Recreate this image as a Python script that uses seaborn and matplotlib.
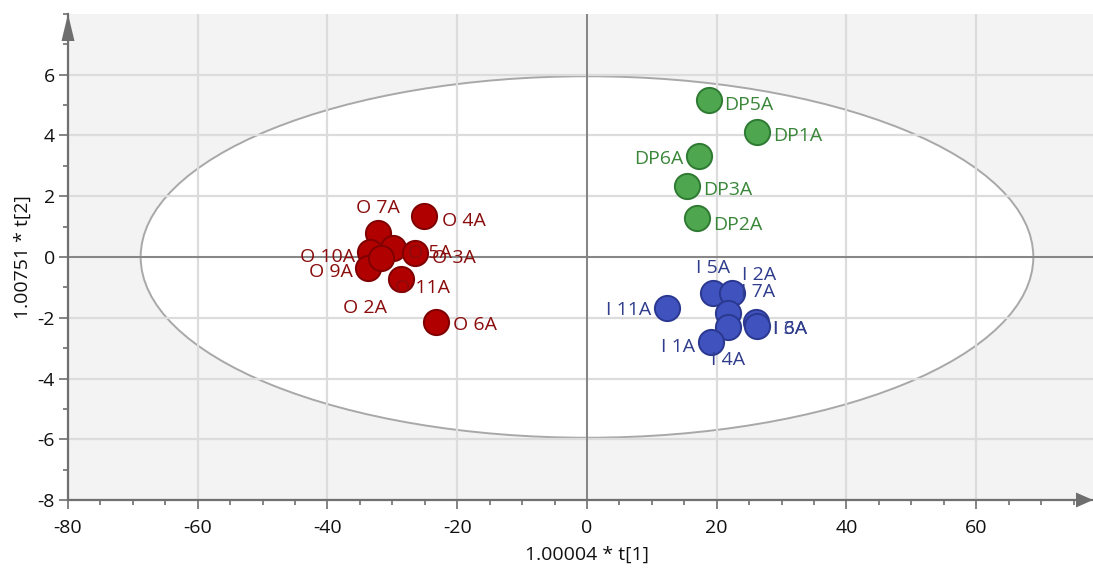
import numpy as np
import pandas as pd
import matplotlib
matplotlib.use("Agg")
import matplotlib.pyplot as plt
from matplotlib.patches import Ellipse, Polygon
from matplotlib.ticker import MultipleLocator
import seaborn as sns

# ---- score values (t[1], t[2]) per sample ----
o_labels = ["O 4A", "O 7A", "O 5A", "O 10A", "O 3A", "O 9A", "O 11A", "O 2A", "O 6A"]
o_t1 = [-25.1, -32.2, -29.9, -33.5, -26.5, -33.7, -28.7, -31.7, -23.2]
o_t2 = [1.36, 0.78, 0.29, 0.18, 0.13, -0.37, -0.73, -0.04, -2.15]

i_labels = ["I 11A", "I 5A", "I 2A", "I 7A", "I 3A", "I 6A", "I 4A", "I 1A"]
i_t1 = [12.3, 19.4, 22.3, 21.8, 26.0, 26.2, 21.8, 19.1]
i_t2 = [-1.67, -1.19, -1.19, -1.85, -2.13, -2.27, -2.31, -2.79]

dp_labels = ["DP5A", "DP1A", "DP6A", "DP3A", "DP2A"]
dp_t1 = [18.8, 26.2, 17.3, 15.4, 17.0]
dp_t2 = [5.17, 4.13, 3.33, 2.34, 1.30]

# Hotelling T2 ellipse semi-axes
ellipse_a = 68.8
ellipse_b = 5.95

x_ticks = [-80, -60, -40, -20, 0, 20, 40, 60]
y_ticks = [-8, -6, -4, -2, 0, 2, 4, 6]

# ---- styling ----
fills = {"O": "#b00000", "I": "#3f52be", "DP": "#4ea64e"}
edges = {"O": "#7e0000", "I": "#2a3890", "DP": "#2f7a33"}
text_colors = {"O": "#8a0c0c", "I": "#2f3d8c", "DP": "#3a873a"}

# label placement: (dx px, dy px, horizontal alignment)
label_pos = {
    "O 4A": (18, -3, "left"), "O 7A": (0, 27, "center"), "O 5A": (15, -3, "left"),
    "O 10A": (-15, -3, "right"), "O 3A": (17, -3, "left"), "O 9A": (-15, -2, "right"),
    "O 11A": (-6, -7, "left"), "O 2A": (-16, -48, "center"), "O 6A": (17, -1, "left"),
    "I 11A": (-16, 0, "right"), "I 5A": (0, 27, "center"), "I 2A": (10, 20, "left"),
    "I 7A": (13, 23, "left"), "I 3A": (17, -5, "left"), "I 6A": (16, -1, "left"),
    "I 4A": (0, -31, "center"), "I 1A": (-16, -3, "right"),
    "DP5A": (15, -3, "left"), "DP1A": (16, -2, "left"), "DP6A": (-16, -1, "right"),
    "DP3A": (16, -2, "left"), "DP2A": (16, -5, "left"),
}

df = pd.DataFrame({
    "t1": o_t1 + i_t1 + dp_t1,
    "t2": o_t2 + i_t2 + dp_t2,
    "name": o_labels + i_labels + dp_labels,
    "group": ["O"] * len(o_t1) + ["I"] * len(i_t1) + ["DP"] * len(dp_t1),
})

sns.set_style("whitegrid", {
    "axes.facecolor": "#f3f3f3",
    "grid.color": "#dcdcdc",
    "axes.edgecolor": "#707070",
})
plt.rcParams["font.family"] = ["Open Sans", "DejaVu Sans"]
plt.rcParams["axes.unicode_minus"] = False

FS = 14

fig = plt.figure(figsize=(10.93, 5.72), dpi=100)
ax = fig.add_axes([68 / 1093, 72 / 572, 1 - 68 / 1093, 486 / 572])
ax.set_axisbelow(True)

ax.set_xlim(-80, 78)
ax.set_ylim(-8, 8)

ell = Ellipse((0, 0), 2 * ellipse_a, 2 * ellipse_b, facecolor="white",
              edgecolor="#a8a8a8", linewidth=1.4, zorder=0.3)
ax.add_patch(ell)

ax.grid(True, which="major", color="#dcdcdc", linewidth=1.6)
ax.axhline(0, color="#858585", linewidth=1.4, zorder=1)
ax.axvline(0, color="#858585", linewidth=1.4, zorder=1)

for g in ["O", "I", "DP"]:
    sub = df[df["group"] == g]
    sns.scatterplot(data=sub, x="t1", y="t2", ax=ax, s=330, color=fills[g],
                    edgecolor=edges[g], linewidth=1.4, legend=False, zorder=3)

for _, row in df.iterrows():
    dx, dy, ha = label_pos[row["name"]]
    ax.annotate(row["name"], (row["t1"], row["t2"]), xytext=(dx, dy),
                textcoords="offset pixels", ha=ha, va="center_baseline",
                fontsize=FS, color=text_colors[row["group"]], zorder=4)

ax.set_xticks(x_ticks)
ax.set_yticks(y_ticks)
ax.xaxis.set_minor_locator(MultipleLocator(5))
ax.yaxis.set_minor_locator(MultipleLocator(1))
ax.tick_params(which="major", direction="out", length=6.5, width=1.2,
               color="#707070", labelsize=FS, labelcolor="#111111")
ax.tick_params(which="minor", direction="out", length=3.5, width=1.2,
               color="#707070")
ax.tick_params(axis="x", which="major", pad=7)
ax.tick_params(axis="y", which="major", pad=3)
ax.tick_params(axis="x", which="both", bottom=True)
ax.tick_params(axis="y", which="both", left=True)

for side in ["top", "right"]:
    ax.spines[side].set_visible(False)
for side in ["left", "bottom"]:
    ax.spines[side].set_color("#707070")
    ax.spines[side].set_linewidth(1.6)

# axis arrow heads
aw, ah = 1025.0, 486.0
ax.add_patch(Polygon([(-6.5 / aw, 1 - 27 / ah), (6.5 / aw, 1 - 27 / ah), (0, 1.0)],
                     closed=True, transform=ax.transAxes, clip_on=False,
                     facecolor="#6e6e6e", edgecolor="none", zorder=5))
ax.add_patch(Polygon([(1 - 17 / aw, -7.5 / ah), (1 - 17 / aw, 7.5 / ah), (1.0, 0)],
                     closed=True, transform=ax.transAxes, clip_on=False,
                     facecolor="#6e6e6e", edgecolor="none", zorder=5))

ax.set_xlabel("1.00004 * t[1]", fontsize=FS, color="#111111")
ax.set_ylabel("1.00751 * t[2]", fontsize=FS, color="#111111")
ax.xaxis.set_label_coords((587 - 68) / aw, -46 / ah)
ax.yaxis.set_label_coords(-36 / aw, 0.5)

fig.savefig("out.png", dpi=100)
